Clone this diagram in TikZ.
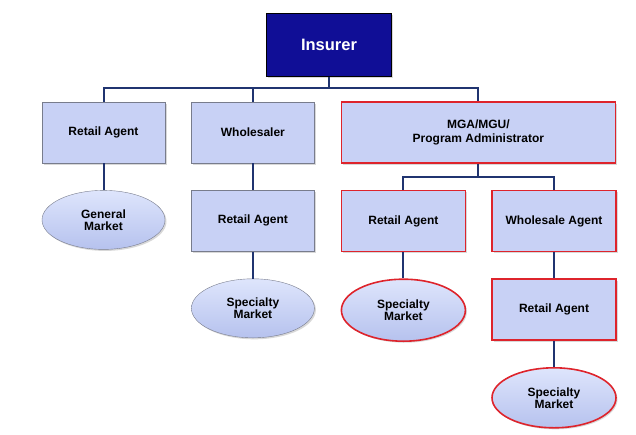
\documentclass[tikz,border=0pt]{standalone}
\usepackage{fontspec}
\setmainfont{Liberation Sans}
\usetikzlibrary{positioning,shapes.geometric,shadows}
\definecolor{boxfill}{RGB}{200,209,245}
\definecolor{ovaltop}{RGB}{222,229,252}
\definecolor{ovalbottom}{RGB}{182,194,238}
\definecolor{insblue}{RGB}{16,14,150}
\definecolor{linknavy}{RGB}{32,52,112}
\definecolor{edgered}{RGB}{222,36,44}
\definecolor{edgegray}{RGB}{120,124,140}

\begin{document}
\begin{tikzpicture}[x=1pt, y=-1pt, font=\bfseries\fontsize{12}{14}\selectfont, node distance=26pt and 26pt,
      box/.style={rectangle, draw=edgegray, fill=boxfill, minimum width=123pt, minimum height=61pt,
                  inner sep=2pt, align=center, drop shadow={shadow xshift=1.5pt, shadow yshift=-1.5pt, fill=black!30}},
      oval/.style={ellipse, draw=edgegray, top color=ovaltop, bottom color=ovalbottom, minimum width=123pt,
                   minimum height=59pt, inner sep=0pt, align=center, drop shadow={shadow xshift=1.5pt, shadow yshift=-1.5pt, fill=black!30}},
      red/.style={draw=edgered, line width=1.6pt},
      link/.style={draw=linknavy, line width=2pt}]
    \useasboundingbox (0,0) rectangle (636,434);
    \node[box, fill=insblue, draw=black, text=white, minimum width=125pt, minimum height=63pt,
          font=\bfseries\fontsize{16.5}{18}\selectfont] (ins) at (329,45) {Insurer};
    \node[box] (ra1) at (103.5,132.5) {Retail Agent};
    \node[box, right=of ra1] (wh) {Wholesaler};
    \node[box, red, right=of wh, minimum width=274pt] (mga) {MGA/MGU/\\Program Administrator};
    \node[oval, below=27pt of ra1] (gm) {General\\[-2pt]Market};
    \node[box, below=27pt of wh] (ra2) {Retail Agent};
    \node[oval, below=27pt of ra2] (sm1) {Specialty\\[-2pt]Market};
    \node[box, red, below=of mga.south west, anchor=north west, minimum width=124pt] (ra3) {Retail Agent};
    \node[box, red, right=25pt of ra3, minimum width=124pt] (wa) {Wholesale Agent};
    \node[oval, red, below=of ra3, minimum width=124pt, minimum height=62pt] (sm2) {Specialty\\[-2pt]Market};
    \node[box, red, below=of wa, minimum width=124pt] (ra4) {Retail Agent};
    \node[oval, red, below=of ra4, minimum width=124pt, minimum height=60pt] (sm3) {Specialty\\[-2pt]Market};
    \coordinate (bus) at ([yshift=-11pt]ins.south);
    \coordinate (mbus) at ([yshift=-13pt]mga.south);
    \draw[link] (ins.south) -- (bus);
    \draw[link] (bus) -| (ra1.north);
    \draw[link] (bus) -| (wh.north);
    \draw[link] (bus) -| (mga.north);
    \draw[link] (ra1) -- (gm);
    \draw[link] (wh) -- (ra2);
    \draw[link] (ra2) -- (sm1);
    \draw[link] (mga.south) -- (mbus);
    \draw[link] (mbus) -| (ra3.north);
    \draw[link] (mbus) -| (wa.north);
    \draw[link] (ra3) -- (sm2);
    \draw[link] (wa) -- (ra4);
    \draw[link] (ra4) -- (sm3);
\end{tikzpicture}
\end{document}
